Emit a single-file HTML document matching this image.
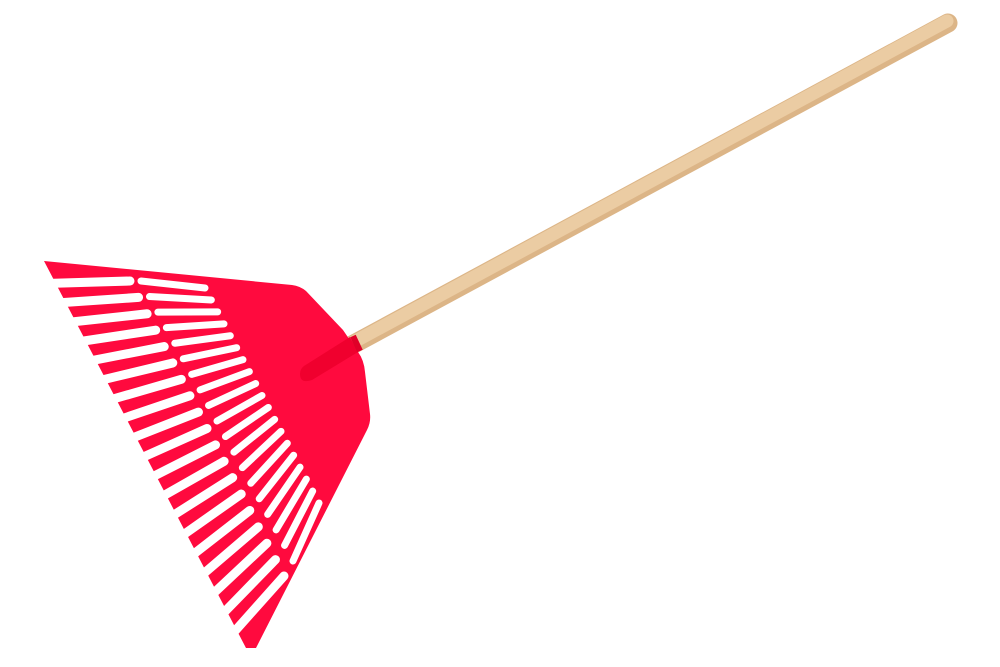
<!DOCTYPE html>
<html><head><meta charset="utf-8"><style>html,body{margin:0;padding:0;background:#fff}svg{display:block}</style></head>
<body>
<svg id="s" width="1000" height="667" viewBox="0 0 1000 667" xmlns="http://www.w3.org/2000/svg">
<line x1="352" y1="345" x2="948" y2="23" stroke="#dcb587" stroke-width="19" stroke-linecap="round"/>
<line x1="352" y1="343" x2="947" y2="21" stroke="#ebcca3" stroke-width="13" stroke-linecap="round"/>
<path d="M44,261 L292,285 Q300,286 306,291 L343,330 L358,352 Q364,360 365,372 L370,414 Q371,422 367,430 L256,648 L246,648 Z" fill="#ff0a3e"/>
<g id="g" stroke="#fff" stroke-linecap="round"></g>
<path d="M304,366 L350,337 L358,352 L312,380 Q300,384 300,374 Q300,369 304,366 Z" fill="#f0002e"/>
<line x1="353" y1="336" x2="360" y2="351" stroke="#e00028" stroke-width="6"/>
</svg>
<script>
var g=document.getElementById('g');
function L(a,b,w,c){var l=document.createElementNS('http://www.w3.org/2000/svg','line');l.setAttribute('x1',a[0]);l.setAttribute('y1',a[1]);l.setAttribute('x2',b[0]);l.setAttribute('y2',b[1]);l.setAttribute('stroke-width',w);if(c)l.setAttribute('stroke-linecap',c);g.appendChild(l);}
function lerp(p,q,t){return [p[0]+(q[0]-p[0])*t,p[1]+(q[1]-p[1])*t];}
var T0=[46,264],T1=[249,646];
var Q0=[130,281],Q1=[284,576];
var A0=[141,281],A1=[293,561];
var B0=[205,288],B1=[319,503];
for(var i=0;i<19;i++){
 var t=(i+0.5)/19, s=i/18;
 var o=lerp(T0,T1,t); o=[o[0]-22,o[1]+10];
 var q=lerp(Q0,Q1,s);
 L(o,q,9);
 L(lerp(A0,A1,s),lerp(B0,B1,s),7);
}
</script>
</body></html>
